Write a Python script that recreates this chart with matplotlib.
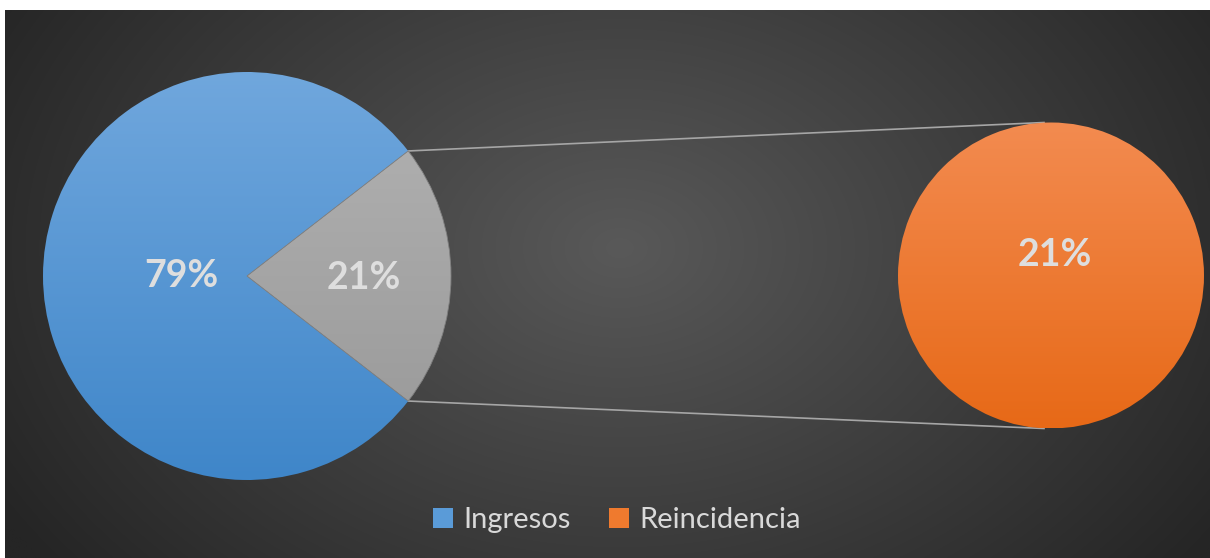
import numpy as np
import matplotlib
matplotlib.use("Agg")
import matplotlib.pyplot as plt
from matplotlib.colors import LinearSegmentedColormap, to_rgb
from matplotlib.patches import Patch

# ---- data ----
categories = ["Ingresos", "Reincidencia"]
values = [79, 21]
labels_main = ["79%", "21%"]
label_sub = "21%"

W, H = 1210, 558
fig = plt.figure(figsize=(W / 100, H / 100), dpi=100)
fig.patch.set_facecolor("white")
ax = fig.add_axes([0, 0, 1, 1])
ax.set_xlim(0, W)
ax.set_ylim(0, H)
ax.set_aspect("equal")
ax.axis("off")

# ---- background radial gradient ----
x0, x1, y0, y1 = 5, W, 0, H - 10
xs = np.linspace(x0, x1, 600)
ys = np.linspace(y0, y1, 300)
X, Y = np.meshgrid(xs, ys)
cx, cy = 620, 310
d = np.sqrt(((X - cx) / 720) ** 2 + ((Y - cy) / 520) ** 2)
d = np.clip(d, 0, 1)
c_in = np.array(to_rgb("#595959"))
c_out = np.array(to_rgb("#252525"))
img = c_in[None, None, :] * (1 - d[..., None]) + c_out[None, None, :] * d[..., None]
ax.imshow(img, extent=[x0, x1, y0, y1], origin="lower", zorder=0, interpolation="bilinear")


def grad_fill(patch, top, bottom, ytop, ybot, xl, xr, z):
    cmap = LinearSegmentedColormap.from_list("g", [bottom, top])
    g = np.linspace(0, 1, 256).reshape(-1, 1)
    im = ax.imshow(g, cmap=cmap, extent=[xl, xr, ybot, ytop], origin="lower",
                   aspect="auto", zorder=z, interpolation="bilinear")
    im.set_clip_path(patch)


# ---- main pie ----
mc = (247, 282)
mr = 204
half = values[1] / sum(values) * 360 / 2
wedges, _ = ax.pie([values[1], values[0]], center=mc, radius=mr,
                   startangle=-half, counterclock=True,
                   wedgeprops=dict(linewidth=0.6, edgecolor="#7a7a7a"),
                   frame=True)
ax.set_xlim(0, W)
ax.set_ylim(0, H)
ax.axis("off")
gray_w, blue_w = wedges
grad_fill(blue_w, "#70a7dd", "#3f86c9", mc[1] + mr, mc[1] - mr, mc[0] - mr, mc[0] + mr, 3)
grad_fill(gray_w, "#b3b3b3", "#979797", mc[1] + mr, mc[1] - mr, mc[0] - mr, mc[0] + mr, 3)
gray_w.set_facecolor("none")
blue_w.set_facecolor("none")
gray_w.set_zorder(4)
blue_w.set_zorder(4)
gray_w.set_edgecolor("#808080")
blue_w.set_edgecolor("none")

# ---- sub pie ----
sc = (1051, 282.5)
sr = 153
sw, _ = ax.pie([values[1]], center=sc, radius=sr, normalize=True,
               wedgeprops=dict(linewidth=0), frame=True)
ax.set_xlim(0, W)
ax.set_ylim(0, H)
ax.axis("off")
sw[0].set_zorder(2)
grad_fill(sw[0], "#f38b50", "#e76917", sc[1] + sr, sc[1] - sr, sc[0] - sr, sc[0] + sr, 3)
sw[0].set_facecolor("none")

# ---- connector lines ----
a = np.deg2rad(half)
p_top = (mc[0] + mr * np.cos(a), mc[1] + mr * np.sin(a))
p_bot = (mc[0] + mr * np.cos(a), mc[1] - mr * np.sin(a))
ax.plot([p_top[0], sc[0] - 7], [p_top[1], sc[1] + sr], color="#a6a6a6", lw=1.2, zorder=1.5)
ax.plot([p_bot[0], sc[0] - 7], [p_bot[1], sc[1] - sr], color="#a6a6a6", lw=1.2, zorder=1.5)

# ---- labels ----
tcol = "#dedede"
fs = 27
ax.text(181, H - 276, labels_main[0], ha="center", va="center", fontsize=fs,
        fontweight="bold", color=tcol, family="Lato", zorder=6)
ax.text(364, H - 278, labels_main[1], ha="center", va="center", fontsize=fs,
        fontweight="bold", color=tcol, family="Lato", zorder=6)
ax.text(1055, H - 255, label_sub, ha="center", va="center", fontsize=fs,
        fontweight="bold", color=tcol, family="Lato", zorder=6)

# ---- legend ----
handles = [Patch(facecolor="#5a9bd8", edgecolor="none"),
           Patch(facecolor="#ef7a2e", edgecolor="none")]
leg = ax.legend(handles, categories, loc="center", bbox_to_anchor=(617 / W, 1 - 520 / H),
                bbox_transform=fig.transFigure, ncol=2, frameon=False,
                prop=dict(family="Lato", size=21), labelcolor="#d9d9d9",
                handlelength=0.7, handleheight=0.7, handletextpad=0.35,
                columnspacing=1.3)
leg.set_zorder(7)

fig.savefig("out.png", dpi=100, facecolor="white")
